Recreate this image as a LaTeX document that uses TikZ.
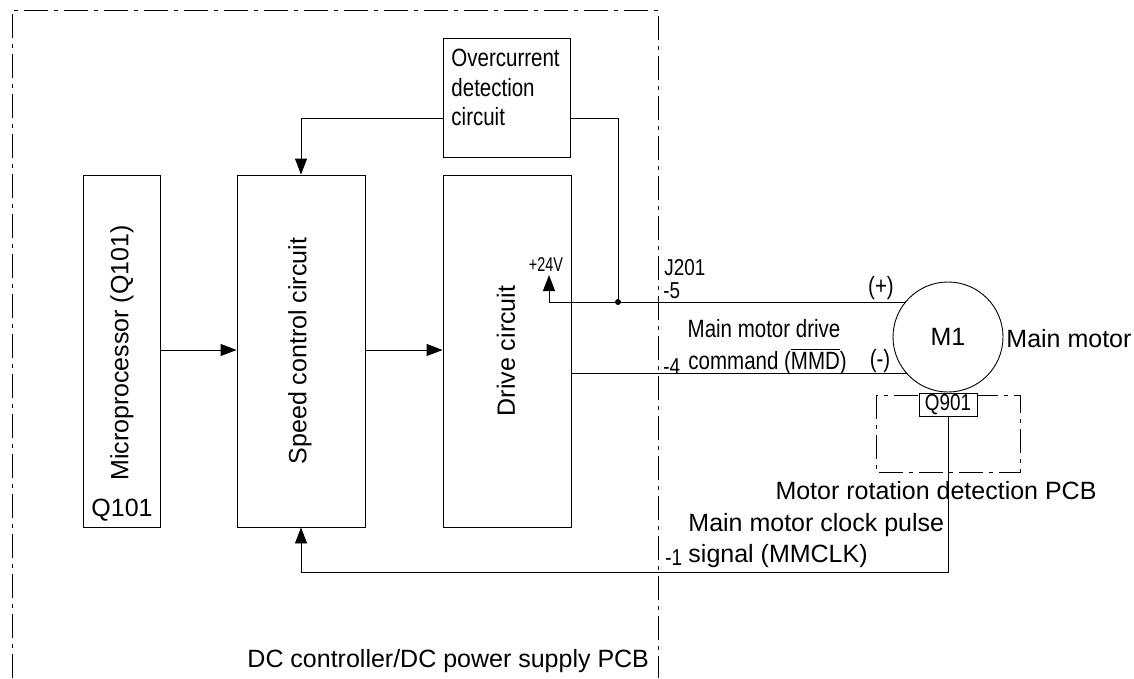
\documentclass[tikz,border=0pt]{standalone}
\usepackage{fontspec}
\setmainfont{Liberation Sans}
\newfontfamily\narrowfont[FakeStretch=0.82]{Liberation Sans}
\newfontfamily\narrowerfont[FakeStretch=0.72]{Liberation Sans}
\usetikzlibrary{arrows.meta}
\newcommand\myovl[1]{\setbox0\hbox{#1}\rlap{\rule[\dimexpr\ht0+1.8pt\relax]{\wd0}{0.9pt}}\box0}
\begin{document}
\begin{tikzpicture}[x=1pt,y=-1pt,
  line width=0.9pt,
  blk/.style={draw, line width=0.9pt, inner sep=0pt},
  dashdot/.style={draw, line width=0.9pt, dash pattern=on 24pt off 6pt on 4pt off 6pt},
  arr/.style={-{Triangle[length=16pt,width=12pt]}},
  reg/.style={font=\fontsize{25}{29}\selectfont, inner sep=0pt},
  nar/.style={font=\narrowfont\fontsize{25}{29}\selectfont, inner sep=0pt},
  nars/.style={font=\narrowfont\fontsize{23}{25}\selectfont, inner sep=0pt},
  dot/.style={circle, fill, inner sep=0pt, minimum size=6pt}
]
\useasboundingbox (0,0) rectangle (1134,678);
\fill[white] (0,0) rectangle (1134,678);

% PCB boundary (dash-dot)
\draw[dashdot] (12,678) -- (12,10) -- (658,10) -- (658,678);

% blocks
\node[blk, minimum width=77pt, minimum height=352pt] (mpu) at (121.5,351) {};
\node[blk, minimum width=128pt, minimum height=352pt] (spd) at (301,351) {};
\node[blk, minimum width=128pt, minimum height=352pt] (drv) at (507,351) {};
\node[blk, minimum width=127pt, minimum height=119pt] (oc) at (506.5,97.5) {};

\node[reg, rotate=90] (mputxt) at (122,353) {Microprocessor (Q101)};
\node[reg] (q101) at (122,510) {Q101};
\node[reg, rotate=90] (spdtxt) at (300,351) {Speed control circuit};
\node[reg, rotate=90] (drvtxt) at (506,351) {Drive circuit};
\node[nar, align=left, anchor=north west, font=\narrowfont\fontsize{25}{29.5}\selectfont] (octxt) at (451,49) {Overcurrent\\detection\\circuit};

% motor
\node[draw, circle, minimum size=110pt, inner sep=0pt, line width=0.9pt] (m1) at (948,337) {};
\node[reg] (m1txt) at (948,337) {M1};
\node[reg, anchor=west] (mmtxt) at (1006,339) {Main motor};

% rotation detection PCB
\draw[dashdot] (876,395) rectangle (1020,472);
\node[blk, fill=white, minimum width=58pt, minimum height=23pt] (q901) at (948,404.5) {};
\node[nars] (q901txt) at (948,405) {Q901};
\node[reg] (rottxt) at (936,491) {Motor rotation detection PCB};

% connectors
\draw[arr] (mpu.east |- 0,350) -- (spd.west |- 0,350);
\draw[arr] (spd.east |- 0,350) -- (drv.west |- 0,350);
\draw[arr] (oc.west |- 0,118) -| (spd.north);
\coordinate (jn) at (618,302);
\draw (oc.east |- 0,118) -| (jn);
\node[dot] (jdot) at (jn) {};
\coordinate (pin) at (906,302);
\coordinate (v24) at (549,275);
\draw[arr] (pin) -- (549,302) -- (v24);
\coordinate (nin) at (907,373);
\draw (drv.east |- 0,373) -- (nin);
\draw[arr] (q901.south) -- (948,572) -| (spd.south);

% labels
\node[font=\narrowerfont\fontsize{20}{22}\selectfont, inner sep=0pt] (v24txt) at (546,265) {+24V};
\node[nars, anchor=west] (j201) at (664,268) {J201};
\node[nars, anchor=west] (p5) at (663,291) {-5};
\node[nar] (mdrv1) at (764,329) {Main motor drive};
\node[nars, anchor=west] (p4) at (663,367) {-4};
\node[nar, anchor=west] (mdrv2) at (688,362) {command (\myovl{MMD})};
\node[nar] (plus) at (881,288) {(+)};
\node[nar] (minus) at (880,361) {(-)};
\node[reg, anchor=west] (clk1) at (688,525) {Main motor clock pulse};
\node[nars, anchor=west] (p1) at (665,558) {-1};
\node[reg, anchor=west] (clk2) at (688,556) {signal (MMCLK)};
\node[reg, anchor=west] (dctxt) at (247,661) {DC controller/DC power supply PCB};
\end{tikzpicture}
\end{document}
